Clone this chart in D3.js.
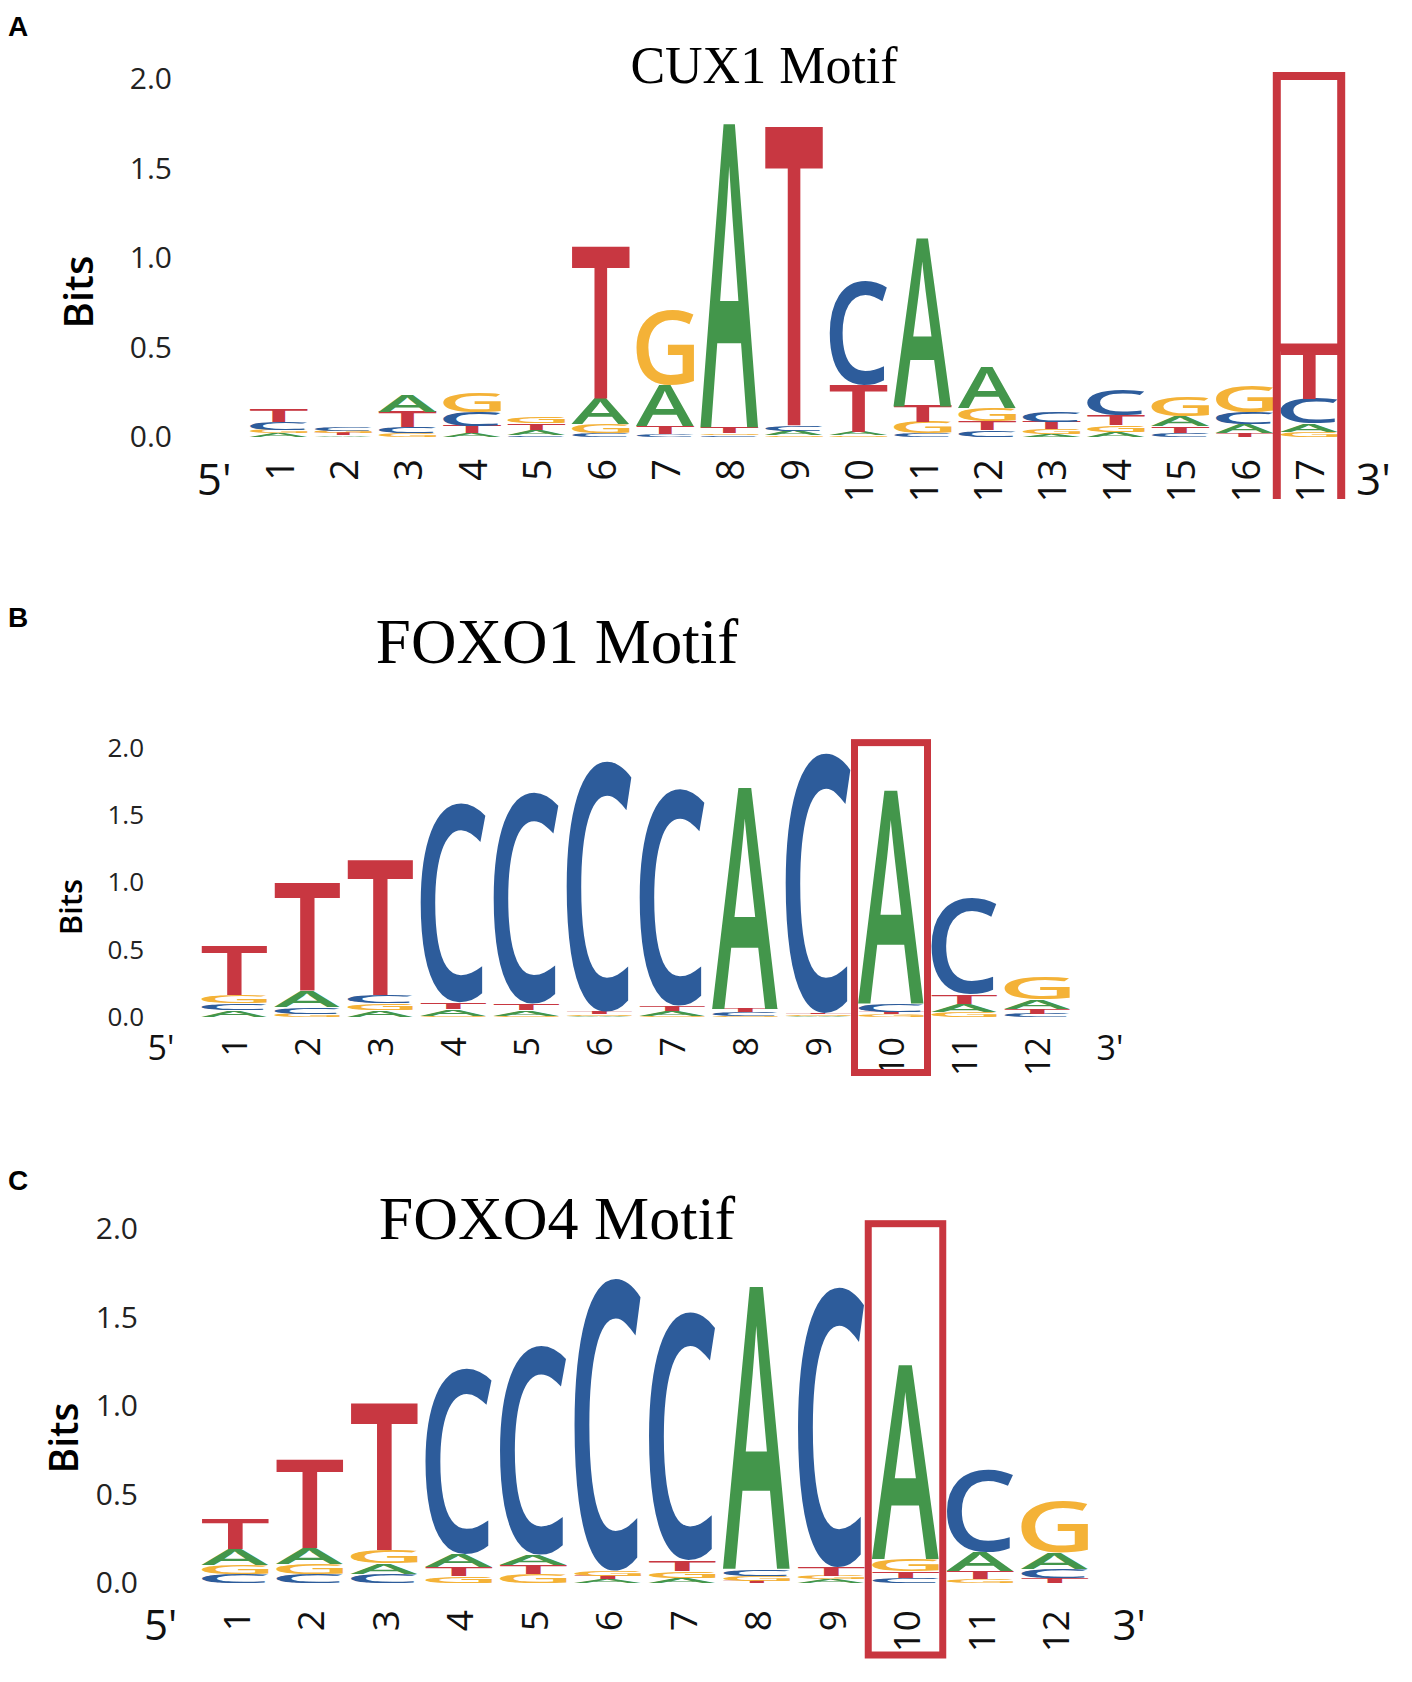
<!DOCTYPE html>
<html>
<head>
<meta charset="utf-8">
<script src="https://cdn.jsdelivr.net/npm/d3@7"></script>
<style>
  body { margin: 0; background: #fff; }
  svg text { font-family: 'Open Sans', sans-serif; }
</style>
</head>
<body>
<script>
// letter heights in bits, one array per base, one value per position
const cux1Pos = ["1","2","3","4","5","6","7","8","9","10","11","12","13","14","15","16","17"];
const cux1A = [0.02, 0.01, 0.095, 0.02, 0.03, 0.145, 0.23, 1.70, 0.025, 0.02, 0.94, 0.235, 0.015, 0.025, 0.055, 0.05, 0.045];
const cux1C = [0.045, 0.02, 0.035, 0.08, 0.01, 0.02, 0.015, 0.01, 0.03, 0.58, 0.02, 0.04, 0.06, 0.14, 0.025, 0.065, 0.14];
const cux1G = [0.02, 0.015, 0.02, 0.11, 0.04, 0.055, 0.42, 0.01, 0.01, 0.01, 0.065, 0.07, 0.03, 0.04, 0.11, 0.15, 0.03];
const cux1T = [0.07, 0.01, 0.085, 0.04, 0.035, 0.85, 0.045, 0.035, 1.67, 0.26, 0.09, 0.05, 0.04, 0.055, 0.035, 0.02, 0.28];

const foxo1Pos = ["1","2","3","4","5","6","7","8","9","10","11","12"];
const foxo1A = [0.05, 0.12, 0.05, 0.05, 0.04, 0.01, 0.035, 1.65, 0.01, 1.59, 0.06, 0.07];
const foxo1C = [0.05, 0.05, 0.06, 1.48, 1.57, 1.86, 1.61, 0.025, 1.93, 0.06, 0.71, 0.025];
const foxo1G = [0.06, 0.025, 0.05, 0.01, 0.01, 0.01, 0.01, 0.01, 0.01, 0.02, 0.04, 0.17];
const foxo1T = [0.37, 0.80, 1.00, 0.05, 0.05, 0.02, 0.04, 0.025, 0.01, 0.02, 0.07, 0.035];

const foxo4Pos = ["1","2","3","4","5","6","7","8","9","10","11","12"];
const foxo4A = [0.09, 0.09, 0.06, 0.07, 0.06, 0.02, 0.03, 1.60, 0.02, 1.10, 0.11, 0.09];
const foxo4C = [0.05, 0.05, 0.05, 1.05, 1.18, 1.65, 1.40, 0.04, 1.58, 0.03, 0.47, 0.05];
const foxo4G = [0.05, 0.06, 0.075, 0.04, 0.05, 0.03, 0.04, 0.03, 0.02, 0.07, 0.025, 0.29];
const foxo4T = [0.17, 0.50, 0.83, 0.05, 0.05, 0.02, 0.06, 0.01, 0.05, 0.035, 0.04, 0.03];

const yTicks = [0, 0.5, 1.0, 1.5, 2.0];
const bases = ["A", "C", "G", "T"];
const baseColor = {A: "#43964b", C: "#2d5c9b", G: "#f4b237", T: "#c83741"};
const boxColor = "#c8363f";

const svg = d3.select("body").append("svg")
  .attr("width", 1412)
  .attr("height", 1682);

// glyph ink bounds, so every letter fills its box exactly
const ctx = document.createElement("canvas").getContext("2d");
const GLYPH_SIZE = 200;
const GLYPH_WEIGHT = 600;
ctx.font = GLYPH_WEIGHT + " " + GLYPH_SIZE + "px 'Open Sans'";
const ink = {};
bases.forEach(function(b) {
  const m = ctx.measureText(b);
  ink[b] = {
    x0: -m.actualBoundingBoxLeft,
    y0: -m.actualBoundingBoxAscent,
    w: m.actualBoundingBoxLeft + m.actualBoundingBoxRight,
    h: m.actualBoundingBoxAscent + m.actualBoundingBoxDescent
  };
});

function drawLogo(L, pos, data) {
  const g = svg.append("g");

  const x = d3.scaleBand()
    .domain(["5'"].concat(pos, ["3'"]))
    .range(L.xRange);
  const y = d3.scaleLinear().domain([0, 2]).range(L.yRange);

  // panel tag and title
  g.append("text")
    .attr("x", 8).attr("y", L.tagY)
    .style("font-family", "'Liberation Sans', Arial, sans-serif")
    .style("font-weight", "bold")
    .style("font-size", "28px")
    .text(L.tag);
  g.append("text")
    .attr("x", L.titleX).attr("y", L.titleY)
    .attr("text-anchor", "middle")
    .style("font-family", "'Liberation Serif', 'Times New Roman', serif")
    .style("font-size", L.titleSize + "px")
    .text(L.title);

  // y axis: labels only
  const ya = g.append("g")
    .attr("transform", "translate(" + L.tickX + ",0)")
    .call(d3.axisLeft(y).tickValues(yTicks).tickFormat(d3.format(".1f")).tickSize(0).tickPadding(0));
  ya.select(".domain").remove();
  ya.selectAll("text")
    .style("font-family", "'Open Sans', sans-serif")
    .style("font-size", L.tickSize + "px")
    .attr("fill", "#222");

  g.append("text")
    .attr("transform", "translate(" + L.bitsX + "," + L.bitsY + ") rotate(-90)")
    .attr("text-anchor", "middle")
    .attr("dominant-baseline", "central")
    .style("font-size", L.bitsSize + "px")
    .style("font-weight", 600)
    .text("Bits");

  // x axis: rotated position numbers, plain 5' / 3'
  const xa = g.append("g")
    .attr("transform", "translate(0," + L.numY + ")")
    .call(d3.axisBottom(x).tickSize(0));
  xa.select(".domain").remove();
  xa.selectAll(".tick text")
    .attr("fill", "#111")
    .each(function(d) {
      const t = d3.select(this);
      if (d === "5'" || d === "3'") {
        t.attr("y", L.endY - L.numY).attr("dy", null)
          .attr("text-anchor", "middle")
          .style("font-size", L.endSize + "px");
      } else {
        t.attr("x", 0).attr("y", 0).attr("dy", null)
          .attr("transform", "rotate(-90)")
          .attr("text-anchor", "end")
          .attr("dominant-baseline", "central")
          .style("font-size", L.numSize + "px");
      }
    });

  // stacked letters, smallest at the bottom
  const cols = pos.map(function(p, i) {
    const stack = bases.map(function(b) { return {b: b, v: data[b][i]}; })
      .sort(function(a, c) { return a.v - c.v; });
    let acc = 0;
    stack.forEach(function(s) { s.lo = acc; acc += s.v; s.hi = acc; });
    return {p: p, stack: stack};
  });

  const lw = x.bandwidth() * 0.9;
  cols.forEach(function(c) {
    const cx = x(c.p) + x.bandwidth() / 2;
    c.stack.forEach(function(s) {
      const top = y(s.hi), h = y(s.lo) - y(s.hi);
      if (h <= 0) return;
      const k = ink[s.b];
      g.append("text")
        .attr("font-size", GLYPH_SIZE)
        .attr("font-weight", GLYPH_WEIGHT)
        .attr("fill", baseColor[s.b])
        .attr("transform",
          "translate(" + (cx - lw / 2) + "," + top + ") scale(" + (lw / k.w) + "," + (h / k.h) + ") translate(" + (-k.x0) + "," + (-k.y0) + ")")
        .text(s.b);
    });
  });

  // highlight box
  const B = L.box;
  const bx0 = x(B.pos), bx1 = x(B.pos) + x.bandwidth();
  const by0 = y(B.top);
  const box = g.append("g")
    .attr("fill", "none")
    .attr("stroke", boxColor)
    .attr("stroke-width", B.sw);
  if (B.closed) {
    box.append("rect")
      .attr("x", bx0).attr("y", by0)
      .attr("width", bx1 - bx0).attr("height", B.bottom - by0);
  } else {
    box.append("path")
      .attr("d", "M" + bx0 + "," + B.bottom + "V" + by0 + "H" + bx1 + "V" + B.bottom);
  }
  if (B.split != null) {
    box.append("line")
      .attr("x1", bx0).attr("x2", bx1)
      .attr("y1", y(B.split)).attr("y2", y(B.split));
  }
}

drawLogo({
  tag: "A", tagY: 36, title: "CUX1 Motif", titleX: 764, titleY: 83, titleSize: 52,
  xRange: [182, 1405.6], yRange: [437, 79],
  tickX: 172, tickSize: 30, bitsX: 77, bitsY: 292, bitsSize: 40,
  numY: 459, numSize: 38, endY: 495, endSize: 44,
  box: {pos: "17", top: 2.017, bottom: 499, split: 0.5, closed: false, sw: 8}
}, cux1Pos, {A: cux1A, C: cux1C, G: cux1G, T: cux1T});

drawLogo({
  tag: "B", tagY: 627, title: "FOXO1 Motif", titleX: 557, titleY: 663, titleSize: 63,
  xRange: [124.5, 1146.5], yRange: [1017, 748],
  tickX: 144, tickSize: 26, bitsX: 70, bitsY: 907, bitsSize: 31,
  numY: 1037, numSize: 34, endY: 1060, endSize: 34,
  box: {pos: "10", top: 2.04, bottom: 1072.5, split: null, closed: true, sw: 7}
}, foxo1Pos, {A: foxo1A, C: foxo1C, G: foxo1G, T: foxo1T});

drawLogo({
  tag: "C", tagY: 1190, title: "FOXO4 Motif", titleX: 557, titleY: 1239, titleSize: 62,
  xRange: [123.25, 1166.25], yRange: [1583, 1229],
  tickX: 138, tickSize: 30, bitsX: 62, bitsY: 1438, bitsSize: 39,
  numY: 1610, numSize: 37, endY: 1640, endSize: 42,
  box: {pos: "10", top: 2.03, bottom: 1655, split: null, closed: true, sw: 7}
}, foxo4Pos, {A: foxo4A, C: foxo4C, G: foxo4G, T: foxo4T});
</script>
</body>
</html>
